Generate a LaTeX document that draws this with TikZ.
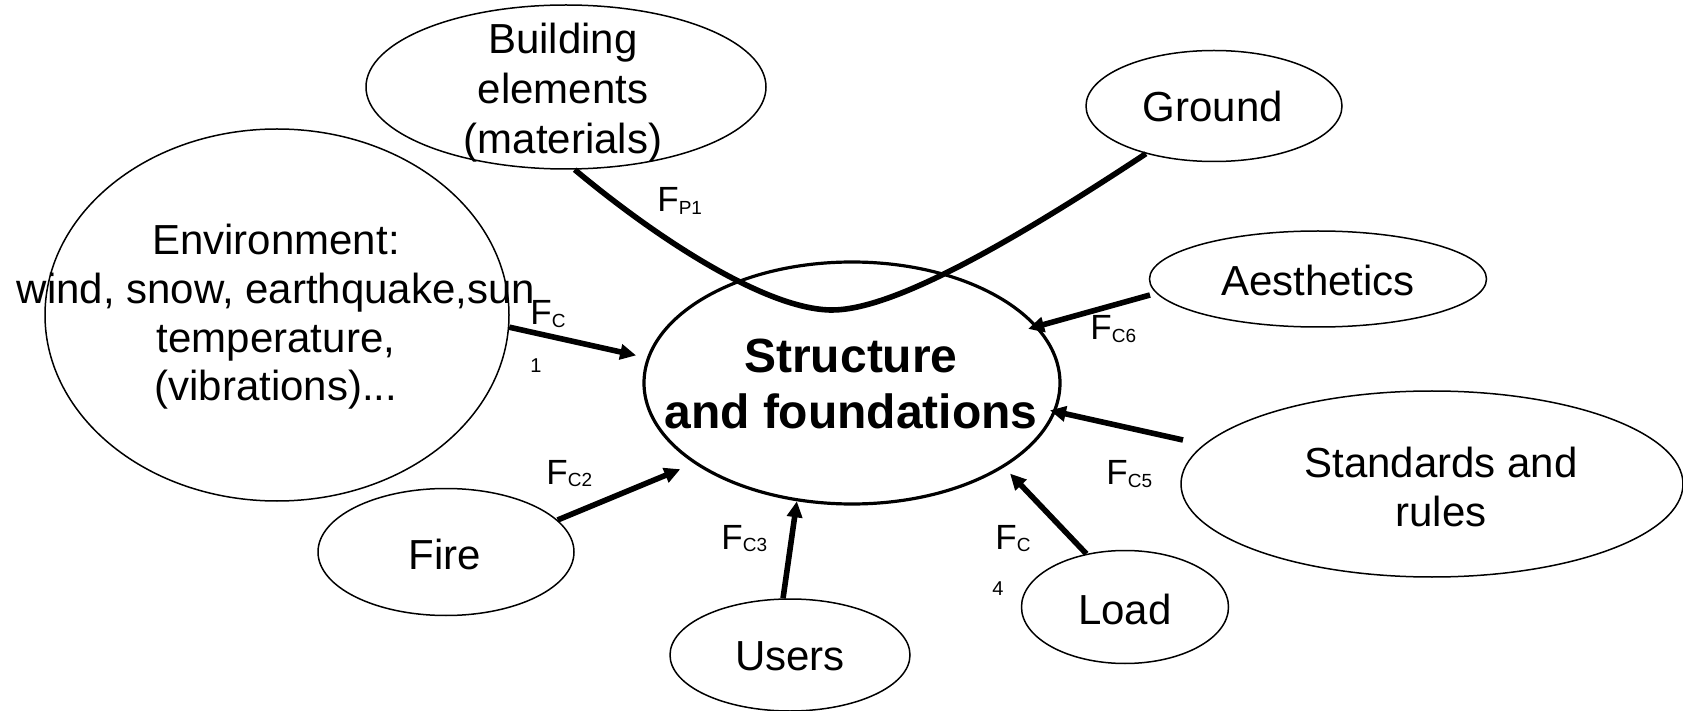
\documentclass[tikz,border=0pt]{standalone}
\usepackage{fontspec}
\setmainfont{Liberation Sans}
\usetikzlibrary{shapes.geometric,arrows.meta}
% force label: F with a lowered index
\newcommand{\Fsub}[1]{F\raisebox{-1.5pt}{\fontsize{9.5}{11}\selectfont #1}}

\begin{document}
\begin{tikzpicture}[x=0.5pt,y=-0.5pt,
  ell/.style={draw, ellipse, inner sep=0pt, line width=0.75pt},
  txt/.style={align=center, inner sep=0pt, font=\fontsize{21}{24.3}\selectfont},
  flab/.style={anchor=base west, inner sep=0pt, font=\fontsize{17.5}{20}\selectfont},
  idx/.style={anchor=base west, inner sep=0pt, font=\fontsize{10}{12}\selectfont},
  force/.style={line width=2.8pt, -{Triangle[length=8pt,width=7.5pt]}},
]
\useasboundingbox (0,0) rectangle (1683,711);

% outlines
\node[ell, minimum width=200pt, minimum height=82pt] (bld) at (566,87) {};
\node[ell, minimum width=128pt, minimum height=55.5pt] (ground) at (1214,106) {};
\node[ell, minimum width=232pt, minimum height=186pt] (env) at (277,315) {};
\node[ell, line width=1.6pt, minimum width=208pt, minimum height=121pt] (struct) at (852,383) {};
\node[ell, minimum width=168.5pt, minimum height=48pt] (aes) at (1318,279) {};
\node[ell, minimum width=251pt, minimum height=93pt] (std) at (1432,484) {};
\node[ell, minimum width=128pt, minimum height=63.5pt] (fire) at (446,552) {};
\node[ell, minimum width=120pt, minimum height=56pt] (users) at (790,655) {};
\node[ell, minimum width=103.5pt, minimum height=56.5pt] (load) at (1125,607) {};

% texts
\node[txt, font=\fontsize{21}{25}\selectfont] (bldt) at (563,93) {Building\\elements\\(materials)};
\node[txt] (groundt) at (1213,106) {Ground};
\node[txt] (envt) at (276,317) {Environment:\\wind, snow, earthquake,sun\\temperature,\\(vibrations)...};
\node[align=center, inner sep=0pt, font=\fontsize{24}{28}\selectfont\bfseries] (structt) at (851,384) {Structure\\and foundations};
\node[txt] (aest) at (1318,280) {Aesthetics};
\node[txt] (stdt) at (1441,487) {Standards and\\rules};
\node[txt] (firet) at (445,554) {Fire};
\node[txt] (userst) at (790,656) {Users};
\node[txt] (loadt) at (1125,609) {Load};

% pressure curve between building elements and ground
\coordinate (dip) at (832,310);
\draw[line width=2.8pt] (bld.-84) .. controls (665,245) and (770,310) .. (dip)
  .. controls (890,310) and (1000,250) .. (ground.215.7);

% actions on the structure
\coordinate (stdtail) at (1183,440);
\coordinate (aestail) at (1150,295);
\draw[force, shorten >=5.5pt] (env.-3) -- (struct.173.6);
\draw[force, shorten >=7.4pt] (fire.16) -- (struct.207.4);
\draw[force] (users.97) -- (struct.245.6);
\draw[force, shorten >=4.3pt] (load.126) -- (struct.-29.8);
\draw[force, shorten >=-3pt] (stdtail) -- (struct.-8.4);
\draw[force, shorten >=-5pt] (aestail) -- (struct.17.6);

% labels
\node[flab] (lp1) at (657,212) {\Fsub{P1}};
\node[flab] (lc1) at (530,325) {\Fsub{C}};
\node[idx] (lc1n) at (530,372) {1};
\node[flab] (lc6) at (1090,340) {\Fsub{C6}};
\node[flab] (lc5) at (1106,485) {\Fsub{C5}};
\node[flab] (lc2) at (546,484) {\Fsub{C2}};
\node[flab] (lc3) at (721,549) {\Fsub{C3}};
\node[flab] (lc4) at (995,549) {\Fsub{C}};
\node[idx] (lc4n) at (992,595) {4};
\end{tikzpicture}
\end{document}
